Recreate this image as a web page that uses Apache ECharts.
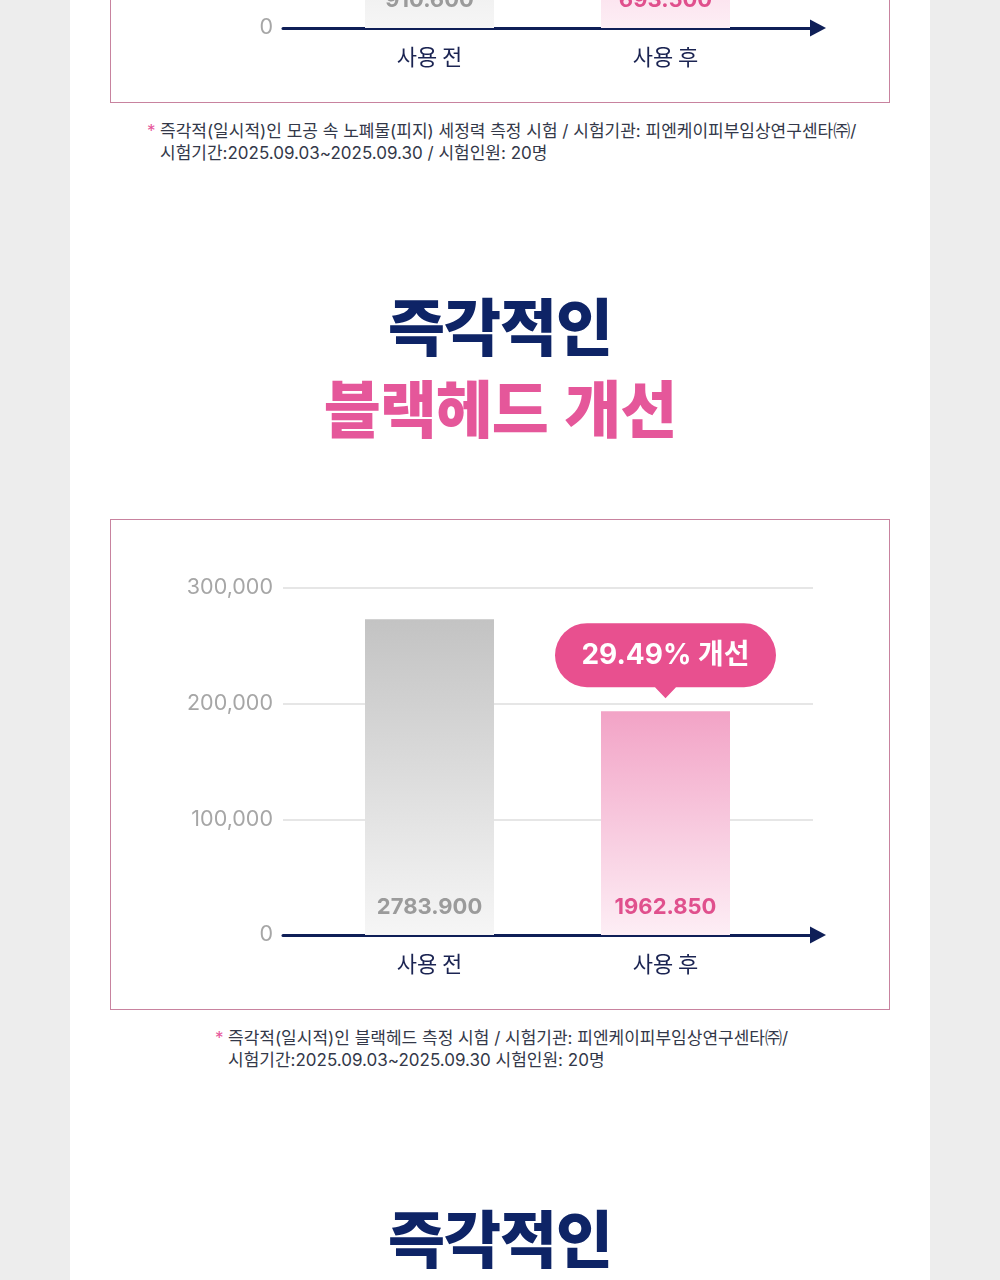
<!DOCTYPE html>
<html lang="ko">
<head>
<meta charset="utf-8">
<title>즉각적인 블랙헤드 개선</title>
<script src="https://cdn.jsdelivr.net/npm/echarts@6/dist/echarts.min.js"></script>
<style>
html, body { margin: 0; padding: 0; }
body { width: 1000px; height: 1280px; background: #ededed; overflow: hidden; position: relative; font-family: Inter, "Noto Sans CJK KR", sans-serif; }
.page { position: absolute; left: 70px; top: 0; width: 860px; height: 1280px; background: #fff; }
.box { position: absolute; left: 110px; width: 780px; height: 491px; box-sizing: border-box; border: 1px solid #c8839f; background: #fff; }
.chart { width: 778px; height: 489px; }
.note { position: absolute; font-family: Inter, "Noto Sans CJK KR", sans-serif; font-size: 17px; line-height: 22px; color: #333849; white-space: nowrap; }
.note .star { position: absolute; left: -13px; top: 0; color: #e6559a; }
.title { position: absolute; left: 0; width: 1000px; text-align: center; font-family: "Noto Sans CJK KR", sans-serif; font-size: 62px; font-weight: 900; line-height: 82px; letter-spacing: -1px; }
.navy { color: #0e2466; }
.pink { color: #e5579a; }
</style>
</head>
<body>
<div class="page"></div>

<div class="box" style="top:-388px"><div id="sebum-chart" class="chart"></div></div>
<div class="note" style="left:160px; top:120px"><span class="star">*</span>즉각적(일시적)인 모공 속 노폐물(피지) 세정력 측정 시험 / 시험기관: 피엔케이피부임상연구센타㈜/<br>시험기간:2025.09.03~2025.09.30 / 시험인원: 20명</div>

<div class="title navy" style="top:283px">즉각적인</div>
<div class="title pink" style="top:365px">블랙헤드 개선</div>

<div class="box" style="top:519px"><div id="blackhead-chart" class="chart"></div></div>
<div class="note" style="left:228px; top:1027px"><span class="star">*</span>즉각적(일시적)인 블랙헤드 측정 시험 / 시험기관: 피엔케이피부임상연구센타㈜/<br>시험기간:2025.09.03~2025.09.30 시험인원: 20명</div>

<div class="title navy" style="top:1195px">즉각적인</div>

<script>
// 공통 카테고리
var categories = ['사용 전', '사용 후'];

// 블랙헤드 측정 (메인 차트)
var blackheadTicks = [0, 100000, 200000, 300000];
var blackheadValues = [273000, 193500];
var blackheadLabels = ['2783.900', '1962.850'];
var blackheadCallout = '29.49% 개선';

// 피지 세정력 (위쪽, 잘려서 아래 부분만 보임)
var sebumTicks = [0, 250000, 500000, 750000, 1000000];
var sebumValues = [910600, 693500];
var sebumLabels = ['910.600', '693.500'];

var ResultChart = function() {
    var t = {
        numFont : 'Inter, "Noto Sans CJK KR", sans-serif',
        init : function() {
            t.render('sebum-chart', sebumTicks, sebumValues, sebumLabels, null);
            t.render('blackhead-chart', blackheadTicks, blackheadValues, blackheadLabels, blackheadCallout);
        },
        comma : function(v) {
            return String(v).replace(/\B(?=(\d{3})+(?!\d))/g, ',');
        },
        gradient : function(top, bottom) {
            return new echarts.graphic.LinearGradient(0, 0, 0, 1, [
                { offset : 0, color : top },
                { offset : 1, color : bottom }
            ]);
        },
        render : function(domId, ticks, values, labels, callout) {
            var yMin = ticks[0];
            var yMax = ticks[ticks.length - 1];
            var yStep = ticks[1] - ticks[0];
            var styles = [
                { bar : t.gradient('#c3c3c3', '#f6f6f6'), text : '#9b9b9b' },
                { bar : t.gradient('#f2a3c6', '#fdeef5'), text : '#e0508d' }
            ];
            var data = [];
            for (var i = 0; i < values.length; i++) {
                data.push({
                    value : values[i],
                    itemStyle : { color : styles[i].bar },
                    label : { color : styles[i].text }
                });
            }
            var series = {
                type : 'bar',
                xAxisIndex : 1,
                yAxisIndex : 1,
                barWidth : 129,
                data : data,
                label : {
                    show : true,
                    position : 'insideBottom',
                    distance : 17,
                    fontFamily : t.numFont,
                    fontSize : 22,
                    fontWeight : 'bold',
                    formatter : function(p) {
                        return labels[p.dataIndex];
                    }
                }
            };
            if (callout) {
                // 말풍선 (둥근 사각형 + 꼬리)
                series.markPoint = {
                    symbol : 'path://M32,0 L189,0 A32,32 0 0 1 189,64 L121,64 L110.5,75 L100,64 L32,64 A32,32 0 0 1 32,0 Z',
                    symbolSize : [221, 75],
                    symbolOffset : [0, -50.5],
                    itemStyle : { color : '#e8508f' },
                    label : {
                        show : true,
                        position : 'inside',
                        offset : [0, -5],
                        color : '#fff',
                        fontFamily : t.numFont,
                        fontSize : 28,
                        fontWeight : 'bold',
                        formatter : function() {
                            return callout;
                        }
                    },
                    data : [ { coord : [categories[1], values[1]] } ]
                };
            }
            var myChart = echarts.init(document.getElementById(domId));
            var option = {
                animation : false,
                grid : [
                    { left : 172, right : 76, top : 68, bottom : 74 },
                    { left : 200.5, right : 105.5, top : 68, bottom : 74 }
                ],
                xAxis : [ {
                    gridIndex : 0,
                    type : 'value',
                    min : 0,
                    max : 1,
                    axisLabel : { show : false },
                    axisTick : { show : false },
                    splitLine : { show : false },
                    axisLine : {
                        show : true,
                        symbol : [ 'none', 'triangle' ],
                        symbolSize : [ 17, 16 ],
                        symbolOffset : [ 0, 5 ],
                        lineStyle : { color : '#0f1f57', width : 3 }
                    }
                }, {
                    gridIndex : 1,
                    type : 'category',
                    data : categories,
                    axisLine : { show : false },
                    axisTick : { show : false },
                    axisLabel : {
                        margin : 18,
                        fontSize : 22,
                        color : '#1b2452',
                        fontFamily : '"Noto Sans CJK KR", sans-serif'
                    }
                } ],
                yAxis : [ {
                    gridIndex : 0,
                    type : 'value',
                    min : yMin,
                    max : yMax,
                    interval : yStep,
                    axisLine : { show : false },
                    axisTick : { show : false },
                    axisLabel : {
                        margin : 10,
                        fontSize : 21.5,
                        color : '#a6a6a6',
                        fontFamily : t.numFont,
                        formatter : function(v) {
                            return t.comma(v);
                        }
                    },
                    splitLine : { lineStyle : { color : '#dedede', width : 1.5 } }
                }, {
                    gridIndex : 1,
                    type : 'value',
                    min : yMin,
                    max : yMax,
                    interval : yStep,
                    show : false
                } ],
                series : [ series ]
            };
            myChart.setOption(option);
        }
    };
    return t;
}();

ResultChart.init();
</script>
</body>
</html>
